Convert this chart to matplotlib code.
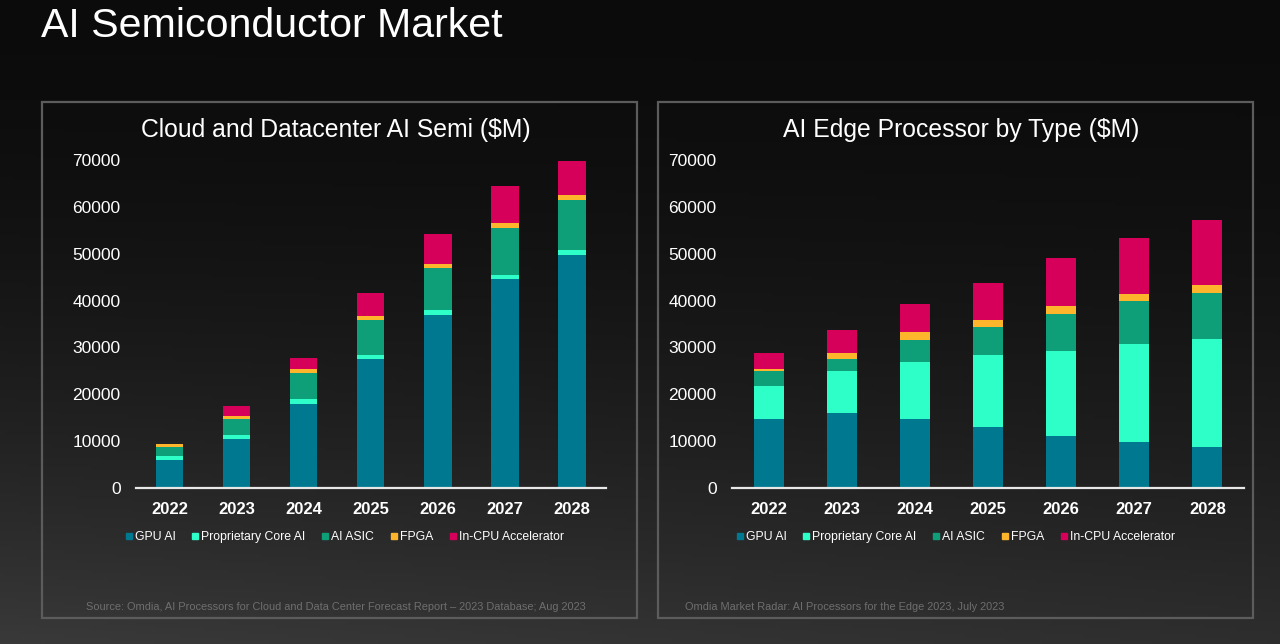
import numpy as np
import matplotlib
matplotlib.use("Agg")
import matplotlib.pyplot as plt
from matplotlib.lines import Line2D
from matplotlib.patches import Rectangle

plt.rcParams['font.family'] = ['Liberation Sans', 'DejaVu Sans']

years = ["2022", "2023", "2024", "2025", "2026", "2027", "2028"]
series_names = ["GPU AI", "Proprietary Core AI", "AI ASIC", "FPGA", "In-CPU Accelerator"]
series_colors = ["#00788F", "#2EFFC8", "#0E9E78", "#FDB62C", "#D6005A"]

# Cloud and Datacenter AI Semi ($M)
gpu_cloud = [6000, 10500, 18000, 27500, 37000, 44500, 49800]
prop_cloud = [800, 900, 900, 900, 900, 900, 900]
asic_cloud = [2000, 3400, 5600, 7400, 9100, 10000, 10700]
fpga_cloud = [500, 600, 800, 900, 900, 1150, 1200]
cpu_cloud = [100, 2000, 2400, 4850, 6350, 7900, 7200]

# AI Edge Processor by Type ($M)
gpu_edge = [14800, 15900, 14800, 13100, 11200, 9900, 8800]
prop_edge = [7000, 9000, 12100, 15300, 18100, 20900, 22900]
asic_edge = [3100, 2700, 4700, 5900, 7900, 9100, 10000]
fpga_edge = [400, 1300, 1600, 1600, 1700, 1600, 1600]
cpu_edge = [3600, 4900, 6000, 7900, 10100, 11900, 13900]

yticks = [0, 10000, 20000, 30000, 40000, 50000, 60000, 70000]

W, H = 1280, 644
fig = plt.figure(figsize=(W / 100, H / 100), dpi=100)

# background gradient
bg = fig.add_axes([0, 0, 1, 1])
yy = np.linspace(0, 1, 200)[:, None]
xx = np.linspace(0, 1, 200)[None, :]
val = 0.045 + 0.18 * (yy ** 1.8) * (1 - 0.25 * xx)
img = np.dstack([val, val, val])
bg.imshow(img, aspect='auto', extent=[0, 1, 0, 1], origin='upper')
bg.set_axis_off()
bg.set_zorder(-10)

def fx(px):
    return px / W

def fy(py):
    return 1 - py / H

# panel boxes
for x0, x1 in [(42, 637), (658, 1253)]:
    fig.patches.append(Rectangle((fx(x0), fy(618)), fx(x1 - x0), (618 - 102) / H,
                                 transform=fig.transFigure, fill=False,
                                 edgecolor="#5c5c5c", linewidth=1.6, zorder=1))

fig.text(fx(41), fy(26), "AI Semiconductor Market", color="white", fontsize=29.6,
         ha="left", va="center")

def draw(ax_rect, data, title, title_x, source, source_x, legend_x):
    ax = fig.add_axes(ax_rect)
    ax.set_facecolor("none")
    x = np.arange(len(years))
    bottom = np.zeros(len(years))
    for vals, c in zip(data, series_colors):
        ax.bar(x, vals, width=0.41, bottom=bottom, color=c, linewidth=0, zorder=2)
        bottom += np.array(vals)
    ax.set_xlim(-0.5, 6.5)
    ax.set_ylim(0, 70000)
    ax.set_yticks(yticks)
    ax.set_yticklabels([str(v) for v in yticks], color="white", fontsize=12.5)
    ax.set_xticks(x)
    ax.set_xticklabels(years, color="white", fontsize=12, fontweight="bold")
    ax.tick_params(axis="y", length=0, pad=11)
    ax.tick_params(axis="x", length=0, pad=10)
    for s in ["top", "right", "left"]:
        ax.spines[s].set_visible(False)
    ax.spines["bottom"].set_color("#e8e8e8")
    ax.spines["bottom"].set_linewidth(1.6)
    fig.text(fx(title_x), fy(130), title, color="white", fontsize=17.8, ha="center", va="center")
    handles = [Line2D([], [], marker="s", linestyle="none", markersize=5,
                      markerfacecolor=c, markeredgecolor=c) for c in series_colors]
    leg = fig.legend(handles, series_names, loc="center", bbox_to_anchor=(fx(legend_x), fy(537)),
                     ncol=5, frameon=False, fontsize=8.8, handlelength=0.6, handletextpad=0.2,
                     columnspacing=1.3, borderaxespad=0)
    for t in leg.get_texts():
        t.set_color("white")
    fig.text(fx(source_x), fy(607), source, color="#6e6e6e", fontsize=7.95, ha="left", va="center")
    return ax

ax_top = 160
ax_bot = 488
draw([fx(136), fy(ax_bot), fx(605.5 - 136), (ax_bot - ax_top) / H],
     [gpu_cloud, prop_cloud, asic_cloud, fpga_cloud, cpu_cloud],
     "Cloud and Datacenter AI Semi ($M)", 336,
     "Source: Omdia, AI Processors for Cloud and Data Center Forecast Report \u2013 2023 Database; Aug 2023", 86,
     344.5)
draw([fx(732), fy(ax_bot), fx(1244 - 732), (ax_bot - ax_top) / H],
     [gpu_edge, prop_edge, asic_edge, fpga_edge, cpu_edge],
     "AI Edge Processor by Type ($M)", 961,
     "Omdia Market Radar: AI Processors for the Edge 2023, July 2023", 685,
     955.5)

fig.savefig("out.png", dpi=100, facecolor="black")
